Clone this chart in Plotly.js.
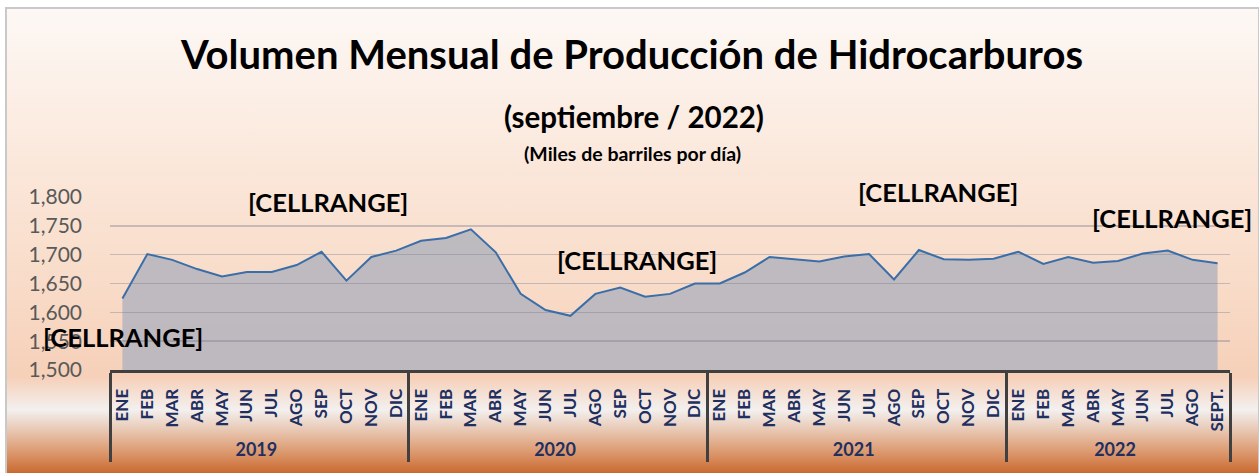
<!DOCTYPE html>
<html>
<head>
<meta charset="utf-8">
<script src="https://cdn.plot.ly/plotly-3.0.1.min.js"></script>
<style>
  html, body { margin: 0; padding: 0; background: #ffffff; }
  #wrap { position: relative; width: 1259px; height: 473px; overflow: hidden; }
  #bg {
    position: absolute; left: 5px; top: 7px; width: 1251px; height: 466px;
    border-left: 2px solid #c9c9c9; border-top: 2px solid #c9c9c9; border-right: 2px solid #c9c9c9;
    background: linear-gradient(to bottom,
      #fdf8f5 0%, #fbe9dd 30%, #f8dac6 62%, #f6d0b9 79%,
      #f3f0ef 86%, #e9cbb8 90%, #dc9a70 95%, #c8652a 100%);
  }
  #chart { position: absolute; left: 0; top: 0; width: 1259px; height: 473px; }
</style>
</head>
<body>
<div id="wrap">
  <div id="bg"></div>
  <div id="chart"></div>
</div>
<script>
// ---- data ----
const years = ['2019', '2020', '2021', '2022'];
const monthsFull = ['ENE', 'FEB', 'MAR', 'ABR', 'MAY', 'JUN', 'JUL', 'AGO', 'SEP', 'OCT', 'NOV', 'DIC'];
const months2022 = ['ENE', 'FEB', 'MAR', 'ABR', 'MAY', 'JUN', 'JUL', 'AGO', 'SEPT.'];
const prod2019 = [1624, 1701, 1691, 1675, 1662, 1670, 1670, 1682, 1705, 1655, 1696, 1707];
const prod2020 = [1724, 1729, 1744, 1704, 1632, 1604, 1594, 1632, 1643, 1627, 1632, 1650];
const prod2021 = [1650, 1669, 1696, 1692, 1688, 1697, 1701, 1657, 1708, 1692, 1691, 1693];
const prod2022 = [1705, 1684, 1696, 1686, 1689, 1702, 1707, 1691, 1685];
const yTicks = [1500, 1550, 1600, 1650, 1700, 1750, 1800];
const labelText = '[CELLRANGE]';

// ---- build series ----
const monthSets = [monthsFull, monthsFull, monthsFull, months2022];
const valueSets = [prod2019, prod2020, prod2021, prod2022];
const xYear = [], xMonth = [], yVals = [];
years.forEach((yr, i) => {
  monthSets[i].forEach((m, j) => {
    xYear.push(yr); xMonth.push(m); yVals.push(valueSets[i][j]);
  });
});
const nPts = yVals.length;

const FONT = 'Lato, "Open Sans", sans-serif';
const navy = '#1f3060';

const traces = [
  {
    type: 'scatter', mode: 'lines',
    x: [xYear, xMonth], y: yVals,
    xaxis: 'x', yaxis: 'y',
    fill: 'tozeroy', fillcolor: 'rgba(180,180,190,0.86)',
    line: { width: 0, color: 'rgba(0,0,0,0)' },
    hoverinfo: 'skip', showlegend: false
  },
  {
    type: 'scatter', mode: 'lines',
    x: [xYear, xMonth], y: yVals,
    xaxis: 'x2', yaxis: 'y2',
    line: { width: 2, color: '#3a6ea8' },
    showlegend: false
  }
];

const labFont = { family: FONT, size: 25.5, weight: 'bold', color: '#000' };

const layout = {
  width: 1259, height: 473,
  paper_bgcolor: 'rgba(0,0,0,0)', plot_bgcolor: 'rgba(0,0,0,0)',
  margin: { l: 110, r: 29, t: 197, b: 103 },
  showlegend: false,
  font: { family: FONT },
  title: {
    text: 'Volumen Mensual de Producción de Hidrocarburos',
    font: { family: FONT, size: 40, weight: 'bold', color: '#000000' },
    x: 0.502, xref: 'container', xanchor: 'center',
    y: 1 - 55 / 473, yref: 'container', yanchor: 'middle'
  },
  xaxis: {
    type: 'multicategory',
    range: [-0.5, nPts - 0.5],
    showgrid: false, zeroline: false,
    showline: true, linecolor: '#404040', linewidth: 3,
    ticks: '',
    tickangle: -90,
    tickfont: { family: FONT, size: 17, weight: 'bold', color: navy },
    showdividers: true, dividercolor: '#404040', dividerwidth: 3,
    ticklabelstandoff: 9
  },
  yaxis: {
    range: [1500, 1800],
    tickvals: yTicks,
    tickformat: ',d',
    showgrid: false, zeroline: false, showline: false,
    ticks: '',
    ticklabelstandoff: 27,
    tickfont: { family: FONT, size: 21, color: '#595959' }
  },
  xaxis2: {
    type: 'multicategory', anchor: 'y2',
    range: [-0.5, nPts - 0.5],
    visible: false, showgrid: false, showdividers: false
  },
  yaxis2: {
    anchor: 'x2',
    range: [1500, 1800],
    tickvals: yTicks,
    showgrid: true, gridcolor: 'rgba(120,122,140,0.38)', gridwidth: 1.5,
    zeroline: false, showline: false, showticklabels: false, ticks: ''
  },
  annotations: [
    { text: '(septiembre / 2022)', xref: 'paper', yref: 'paper',
      x: (633.5 - 110) / 1120, y: (370.2 - 116) / 173.5, xanchor: 'center', yanchor: 'middle',
      showarrow: false, font: { family: FONT, size: 29.5, weight: 'bold', color: '#000' } },
    { text: '(Miles de barriles por día)', xref: 'paper', yref: 'paper',
      x: (632 - 110) / 1120, y: (370.2 - 153) / 173.5, xanchor: 'center', yanchor: 'middle',
      showarrow: false, font: { family: FONT, size: 19.5, weight: 'bold', color: '#000' } },
    { text: labelText, xref: 'paper', yref: 'paper', x: (327.5 - 110) / 1120, y: (370.2 - 202) / 173.5,
      xanchor: 'center', yanchor: 'middle', showarrow: false, font: labFont },
    { text: labelText, xref: 'paper', yref: 'paper', x: (122.6 - 110) / 1120, y: (370.2 - 337) / 173.5,
      xanchor: 'center', yanchor: 'middle', showarrow: false, font: labFont },
    { text: labelText, xref: 'paper', yref: 'paper', x: (636.5 - 110) / 1120, y: (370.2 - 260) / 173.5,
      xanchor: 'center', yanchor: 'middle', showarrow: false, font: labFont },
    { text: labelText, xref: 'paper', yref: 'paper', x: (938 - 110) / 1120, y: (370.2 - 192) / 173.5,
      xanchor: 'center', yanchor: 'middle', showarrow: false, font: labFont },
    { text: labelText, xref: 'paper', yref: 'paper', x: (1171.5 - 110) / 1120, y: (370.2 - 218) / 173.5,
      xanchor: 'center', yanchor: 'middle', showarrow: false, font: labFont }
  ]
};

Plotly.newPlot('chart', traces, layout, { displayModeBar: false, staticPlot: true }).then(function () {
  // enlarge the year (second-level) labels
  document.querySelectorAll('.xtick2 text').forEach(function (t) {
    t.style.fontSize = '18px';
  });
});
</script>
</body>
</html>
